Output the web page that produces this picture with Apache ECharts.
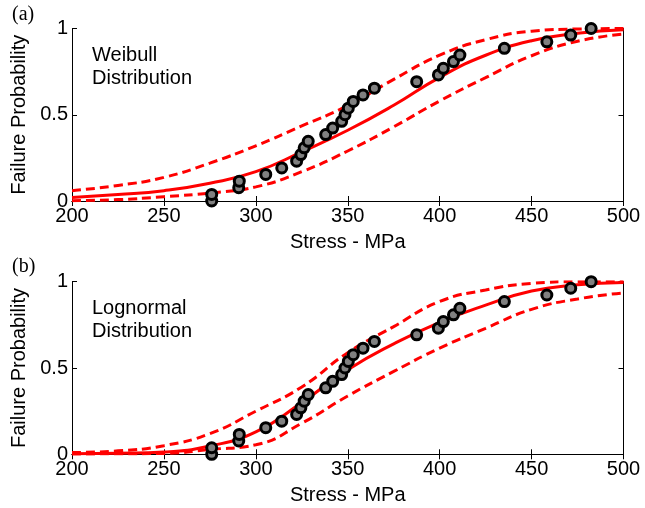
<!DOCTYPE html>
<html>
<head>
<meta charset="utf-8">
<script src="https://cdn.jsdelivr.net/npm/echarts@6/dist/echarts.min.js"></script>
<style>
  html, body { margin: 0; padding: 0; background: #fff; }
  #chart { width: 645px; height: 508px; }
</style>
</head>
<body>
<div id="chart"></div>
<script>
// Measured fracture stresses (MPa) and their ranked failure probabilities
const stressPts = [276, 276, 290.7, 291, 305.4, 314.1, 322.2, 324.5, 326.3, 328.5, 338, 341.8, 346.7, 348.5,
                   350.3, 353, 358.3, 364.5, 387.5, 399.3, 402, 407.5, 411, 435.2, 458.3, 471.3, 482.4];
const probPts = [0, 0.038, 0.077, 0.115, 0.154, 0.192, 0.231, 0.269, 0.308, 0.346, 0.385, 0.423, 0.462, 0.5,
                 0.538, 0.577, 0.615, 0.654, 0.692, 0.731, 0.769, 0.808, 0.846, 0.885, 0.923, 0.962, 1.0];

// Stress grid on which the fitted curves are sampled
const curveStress = [200, 225, 250, 275, 300, 325, 350, 375, 400, 425, 450, 475, 500];

// Weibull fit and its confidence bounds
const weibullFit   = [0.02, 0.037, 0.06, 0.103, 0.17, 0.285, 0.41, 0.555, 0.717, 0.845, 0.929, 0.973, 0.993];
const weibullUpper = [0.06, 0.09, 0.137, 0.22, 0.32, 0.435, 0.553, 0.705, 0.845, 0.935, 0.984, 0.997, 1.0];
const weibullLower = [0.002, 0.008, 0.025, 0.046, 0.082, 0.17, 0.29, 0.43, 0.58, 0.715, 0.842, 0.926, 0.968];

// Lognormal fit and its confidence bounds
const lognormFit   = [0.003, 0.006, 0.013, 0.048, 0.13, 0.3, 0.49, 0.64, 0.765, 0.864, 0.946, 0.982, 0.995];
const lognormUpper = [0.01, 0.02, 0.05, 0.12, 0.25, 0.39, 0.589, 0.74, 0.885, 0.952, 0.99, 1.0, 1.0];
const lognormLower = [0.002, 0.003, 0.005, 0.028, 0.055, 0.18, 0.338, 0.48, 0.615, 0.73, 0.84, 0.9, 0.935];

// Axis ticks
const xTicks = { min: 200, max: 500, interval: 50 };
const yTicks = { min: 0, max: 1, interval: 0.5 };

const FONT = 'Liberation Sans, Arial, Helvetica, sans-serif';
const RED = '#ff0000';

function pairs(xs, ys) { return xs.map((x, i) => [x, ys[i]]); }

const grids = [
  { left: 72, right: 21.5, top: 28.5, height: 172.5 },
  { left: 72, right: 21.5, top: 281.7, height: 172.6 }
];

const xAxes = [], yAxes = [];
grids.forEach((g, gi) => {
  xAxes.push({
    gridIndex: gi, type: 'value', min: xTicks.min, max: xTicks.max, interval: xTicks.interval,
    name: 'Stress - MPa', nameLocation: 'middle', nameGap: 31,
    nameTextStyle: { fontFamily: FONT, fontSize: 20, color: '#000' },
    axisLine: { lineStyle: { color: '#000', width: 1 } },
    axisTick: { inside: true, length: 5, lineStyle: { color: '#000' } },
    axisLabel: { fontFamily: FONT, fontSize: 20, color: '#000', margin: 5 },
    splitLine: { show: false }
  });
  xAxes.push({
    gridIndex: gi, type: 'value', position: 'top', min: xTicks.min, max: xTicks.max, interval: xTicks.interval,
    axisLine: { lineStyle: { color: '#000', width: 1 } },
    axisTick: { inside: true, length: 5, lineStyle: { color: '#000' } },
    axisLabel: { show: false }, splitLine: { show: false }
  });
  yAxes.push({
    gridIndex: gi, type: 'value', min: yTicks.min, max: yTicks.max, interval: yTicks.interval,
    name: 'Failure Probability', nameLocation: 'middle', nameGap: 41,
    nameTextStyle: { fontFamily: FONT, fontSize: 20, color: '#000' },
    axisLine: { show: true, lineStyle: { color: '#000', width: 1 } },
    axisTick: { show: true, inside: true, length: 5, lineStyle: { color: '#000' } },
    axisLabel: { fontFamily: FONT, fontSize: 20, color: '#000', margin: 4 },
    splitLine: { show: false }
  });
  yAxes.push({
    gridIndex: gi, type: 'value', position: 'right', min: yTicks.min, max: yTicks.max, interval: yTicks.interval,
    axisLine: { show: true, lineStyle: { color: '#000', width: 1 } },
    axisTick: { show: true, inside: true, length: 5, lineStyle: { color: '#000' } },
    axisLabel: { show: false }, splitLine: { show: false }
  });
});

function curve(gi, values, dashed) {
  return {
    type: 'line', xAxisIndex: gi * 2, yAxisIndex: gi * 2,
    data: pairs(curveStress, values), smooth: 0.5,
    showSymbol: false, silent: true, z: 2,
    lineStyle: { color: RED, width: 3, type: dashed ? [9, 5] : 'solid' }
  };
}

function points(gi) {
  return {
    type: 'scatter', xAxisIndex: gi * 2, yAxisIndex: gi * 2,
    data: pairs(stressPts, probPts), symbol: 'circle', symbolSize: 10, clip: false, z: 5,
    itemStyle: { color: '#808080', borderColor: '#000', borderWidth: 3, opacity: 1 }
  };
}

const option = {
  backgroundColor: '#fff',
  animation: false,
  grid: grids,
  xAxis: xAxes,
  yAxis: yAxes,
  series: [
    curve(0, weibullUpper, true), curve(0, weibullLower, true), curve(0, weibullFit, false), points(0),
    curve(1, lognormUpper, true), curve(1, lognormLower, true), curve(1, lognormFit, false), points(1)
  ],
  graphic: [
    { type: 'text', left: 12, top: 5, style: { text: '(a)', font: '20px "Liberation Serif", "Times New Roman", serif', fill: '#000' } },
    { type: 'text', left: 12, top: 257, style: { text: '(b)', font: '20px "Liberation Serif", "Times New Roman", serif', fill: '#000' } },
    { type: 'text', left: 92, top: 44, style: { text: 'Weibull\nDistribution', font: '20px ' + FONT, lineHeight: 23, fill: '#000' } },
    { type: 'text', left: 92, top: 297, style: { text: 'Lognormal\nDistribution', font: '20px ' + FONT, lineHeight: 23, fill: '#000' } }
  ]
};

echarts.init(document.getElementById('chart'), null, { renderer: 'canvas' }).setOption(option);
</script>
</body>
</html>
